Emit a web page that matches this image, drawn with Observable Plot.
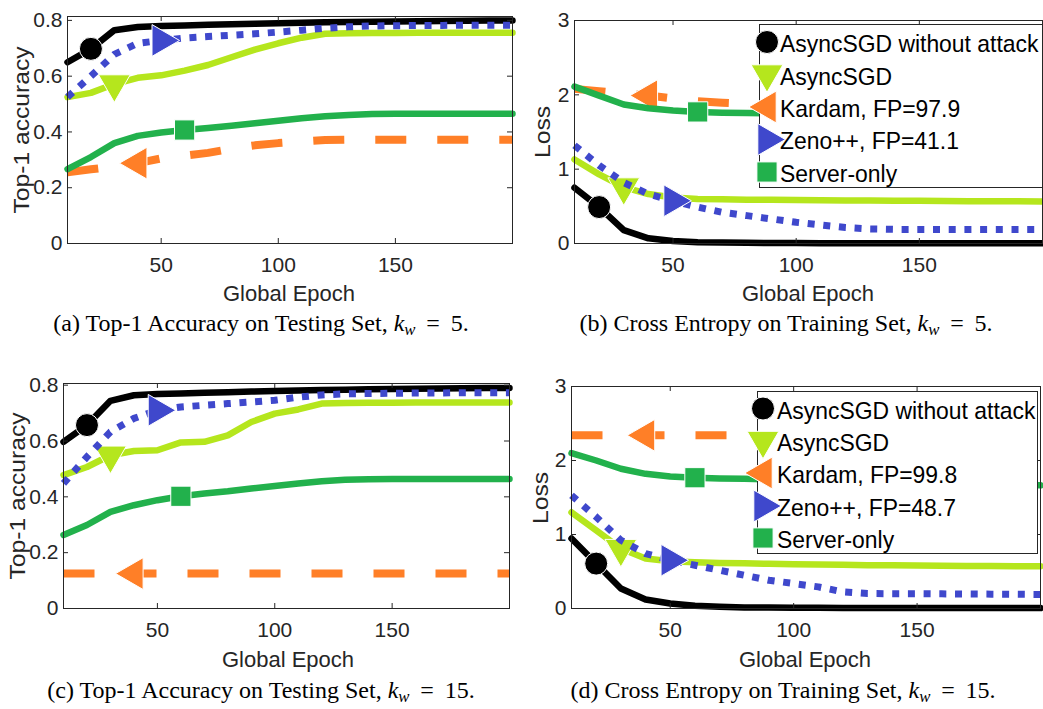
<!DOCTYPE html>
<html><head><meta charset="utf-8">
<script src="https://cdn.jsdelivr.net/npm/d3@7"></script>
<script src="https://cdn.jsdelivr.net/npm/@observablehq/plot@0.6"></script>
<style>
body{margin:0;background:#fff;}
#wrap{position:relative;width:1043px;height:709px;overflow:hidden;font-family:"Liberation Sans",Arial,sans-serif;}
.pl{position:absolute;}
.lbl{position:absolute;transform:translate(-50%,-50%);font-size:22px;color:#262626;white-space:nowrap;line-height:1;}
.ylbl{transform:translate(-50%,-50%) rotate(-90deg) scaleX(1.12);}
.cap{position:absolute;transform:translate(-50%,-50%);font-family:"Liberation Serif","Times New Roman",serif;font-size:24px;white-space:nowrap;color:#000;line-height:1;}
.cap sub{font-size:0.7em;vertical-align:-0.25em;}
.leg{position:absolute;border:1px solid #262626;background:#fff;box-sizing:border-box;overflow:visible;}
</style></head>
<body><div id="wrap"></div>
<script>
// ---------- data ----------
const epochs = [10,20,30,40,50,60,70,80,90,100,110,120,130,140,150,160,170,180,190,200];
const seriesNames = ["AsyncSGD without attack","AsyncSGD","Kardam","Zeno++","Server-only"];
const xTicks = [50,100,150];
const accTicks = [0,0.2,0.4,0.6,0.8];
const lossTicks = [0,1,2,3];
const markerEpochs = [20,30,40,50,60];

// (a) accuracy, k_w = 5
const accA_noAttack = [0.650,0.698,0.765,0.776,0.780,0.782,0.784,0.786,0.788,0.790,0.792,0.793,0.794,0.795,0.796,0.797,0.798,0.799,0.800,0.800];
const accA_async    = [0.525,0.540,0.572,0.594,0.603,0.620,0.640,0.668,0.695,0.718,0.738,0.752,0.754,0.755,0.755,0.756,0.756,0.756,0.756,0.756];
const accA_kardam   = [0.255,0.266,0.276,0.288,0.305,0.315,0.325,0.340,0.352,0.360,0.366,0.371,0.372,0.372,0.372,0.372,0.372,0.372,0.372,0.372];
const accA_zeno     = [0.525,0.600,0.678,0.718,0.728,0.737,0.742,0.747,0.752,0.758,0.765,0.772,0.777,0.780,0.781,0.782,0.782,0.783,0.783,0.783];
const accA_server   = [0.267,0.310,0.360,0.386,0.398,0.407,0.414,0.422,0.431,0.440,0.449,0.456,0.461,0.464,0.465,0.465,0.465,0.465,0.465,0.465];

// (b) loss, k_w = 5
const lossB_noAttack = [0.75,0.49,0.18,0.07,0.035,0.018,0.012,0.009,0.007,0.006,0.005,0.005,0.004,0.004,0.004,0.003,0.003,0.003,0.003,0.003];
const lossB_async    = [1.13,0.93,0.76,0.665,0.62,0.60,0.595,0.59,0.588,0.585,0.583,0.58,0.578,0.576,0.574,0.572,0.57,0.568,0.567,0.566];
const lossB_kardam   = [2.08,2.05,2.02,1.99,1.95,1.915,1.895,1.88,1.87,1.86,1.85,1.84,1.83,1.82,1.81,1.805,1.80,1.795,1.79,1.79];
const lossB_zeno     = [1.32,1.05,0.82,0.665,0.575,0.49,0.42,0.375,0.33,0.285,0.25,0.215,0.195,0.19,0.19,0.19,0.19,0.19,0.19,0.19];
const lossB_server   = [2.11,1.99,1.87,1.82,1.79,1.77,1.76,1.755,1.75,1.745,1.74,1.735,1.73,1.725,1.72,1.715,1.71,1.705,1.70,1.70];

// (c) accuracy, k_w = 15
const accC_noAttack = [0.597,0.657,0.744,0.764,0.768,0.770,0.773,0.775,0.777,0.779,0.781,0.783,0.784,0.785,0.786,0.787,0.788,0.789,0.790,0.790];
const accC_async    = [0.478,0.507,0.549,0.564,0.567,0.595,0.597,0.620,0.668,0.698,0.713,0.734,0.736,0.737,0.737,0.738,0.738,0.738,0.738,0.738];
const accC_kardam   = [0.125,0.125,0.125,0.125,0.125,0.125,0.125,0.125,0.125,0.125,0.125,0.125,0.125,0.125,0.125,0.125,0.125,0.125,0.125,0.125];
const accC_zeno     = [0.448,0.543,0.633,0.681,0.710,0.722,0.728,0.734,0.740,0.746,0.757,0.765,0.769,0.770,0.771,0.772,0.772,0.773,0.773,0.773];
const accC_server   = [0.263,0.299,0.346,0.370,0.388,0.402,0.412,0.420,0.430,0.439,0.448,0.456,0.461,0.463,0.464,0.464,0.464,0.464,0.464,0.464];

// (d) loss, k_w = 15
const lossD_noAttack = [0.945,0.607,0.27,0.121,0.067,0.036,0.022,0.015,0.012,0.010,0.009,0.008,0.008,0.007,0.007,0.007,0.006,0.006,0.006,0.006];
const lossD_async    = [1.30,1.057,0.81,0.675,0.639,0.625,0.616,0.61,0.605,0.598,0.594,0.59,0.586,0.583,0.58,0.578,0.576,0.574,0.572,0.571];
const lossD_kardam   = [2.34,2.34,2.34,2.34,2.34,2.34,2.34,2.34,2.34,2.34,2.34,2.34,2.34,2.34,2.34,2.34,2.34,2.34,2.34,2.34];
const lossD_zeno     = [1.53,1.237,0.922,0.742,0.652,0.585,0.517,0.45,0.382,0.337,0.292,0.225,0.202,0.20,0.20,0.198,0.196,0.194,0.192,0.19];
const lossD_server   = [2.10,2.00,1.888,1.82,1.785,1.767,1.758,1.753,1.745,1.738,1.73,1.72,1.712,1.705,1.698,1.69,1.684,1.678,1.671,1.664];

const legendB = ["AsyncSGD without attack","AsyncSGD","Kardam, FP=97.9","Zeno++, FP=41.1","Server-only"];
const legendD = ["AsyncSGD without attack","AsyncSGD","Kardam, FP=99.8","Zeno++, FP=48.7","Server-only"];

// ---------- styles ----------
const colors = ["#000000","#b5e61d","#ff7f27","#3f48cc","#22b14c"];
const styles = [
  {symbol:"circle",   rotate:0,   dash:null,     w:6.5, r:11.5},
  {symbol:"triangle", rotate:180, dash:null,     w:6.5, r:11.8},
  {symbol:"triangle", rotate:-90, dash:"31,31",  w:8,   r:11.8},
  {symbol:"triangle", rotate:90,  dash:"7,8.7",  w:7,   r:11.8},
  {symbol:"square",   rotate:0,   dash:null,     w:6.5, r:11.4}
];
const TXT = "#262626";
const wrap = document.getElementById("wrap");

function panel({series, yDomain, yTicks, left, top, width, height, ml, mr, mt, mb}) {
  const innerH = height - mt - mb, innerW = width - ml - mr;
  const marks = [];
  series.forEach((vals, i) => {
    const data = epochs.map((e, k) => ({epoch: e, value: vals[k]}));
    const s = styles[i];
    marks.push(Plot.line(data, {x: "epoch", y: "value", stroke: colors[i], strokeWidth: s.w,
      strokeDasharray: s.dash, strokeLinecap: s.dash ? "butt" : "round", strokeLinejoin: "round"}));
    const mk = data.filter(d => d.epoch === markerEpochs[i]);
    marks.push(Plot.dot(mk, {x: "epoch", y: "value", symbol: s.symbol, r: s.r, rotate: s.rotate,
      fill: colors[i], stroke: "white", strokeWidth: 1}));
  });
  const tickStyle = {stroke: TXT, strokeWidth: 1};
  const p = Plot.plot({
    width, height, marginLeft: ml, marginRight: mr, marginTop: mt, marginBottom: mb,
    x: {domain: [10, 200]},
    y: {domain: yDomain},
    style: {fontFamily: "'Liberation Sans', Arial, sans-serif", fontSize: "21px", color: TXT, background: "transparent", overflow: "visible"},
    marks: [
      ...marks,
      Plot.tickX(xTicks, {x: d => d, insetTop: innerH - 5, ...tickStyle}),
      Plot.tickX(xTicks, {x: d => d, insetBottom: innerH - 5, ...tickStyle}),
      Plot.tickY(yTicks, {y: d => d, insetRight: innerW - 5, ...tickStyle}),
      Plot.tickY(yTicks, {y: d => d, insetLeft: innerW - 5, ...tickStyle}),
      Plot.frame({stroke: TXT, strokeWidth: 1}),
      Plot.axisX(xTicks, {tickSize: 0, tickPadding: 14, fontSize: 21, label: null, tickFormat: d => String(d)}),
      Plot.axisY(yTicks, {tickSize: 0, tickPadding: 5, fontSize: 21, label: null, tickFormat: d => String(d)})
    ]
  });
  p.classList.add("pl");
  p.style.left = left + "px";
  p.style.top = top + "px";
  wrap.appendChild(p);
}

panel({series: [accA_noAttack, accA_async, accA_kardam, accA_zeno, accA_server], yDomain: [0, 0.814], yTicks: accTicks,
  left: 0, top: 0, width: 521, height: 300, ml: 67, mr: 9, mt: 16, mb: 57});
panel({series: [lossB_noAttack, lossB_async, lossB_kardam, lossB_zeno, lossB_server], yDomain: [0, 3], yTicks: lossTicks,
  left: 521, top: 0, width: 522, height: 300, ml: 53, mr: 1, mt: 20, mb: 57});
panel({series: [accC_noAttack, accC_async, accC_kardam, accC_zeno, accC_server], yDomain: [0, 0.806], yTicks: accTicks,
  left: 0, top: 365, width: 521, height: 300, ml: 63, mr: 12, mt: 18, mb: 57});
panel({series: [lossD_noAttack, lossD_async, lossD_kardam, lossD_zeno, lossD_server], yDomain: [0, 3], yTicks: lossTicks,
  left: 521, top: 365, width: 522, height: 300, ml: 50, mr: 3, mt: 21, mb: 57});

function label(text, x, y, cls) {
  const d = document.createElement("div");
  d.className = cls;
  d.style.left = x + "px"; d.style.top = y + "px";
  d.innerHTML = text;
  wrap.appendChild(d);
}
label("Global Epoch", 289, 294, "lbl");
label("Global Epoch", 808, 294, "lbl");
label("Global Epoch", 288, 660, "lbl");
label("Global Epoch", 805, 660, "lbl");
label("Top-1 accuracy", 22, 130, "lbl ylbl");
label("Loss", 543, 132, "lbl ylbl");
label("Top-1 accuracy", 18, 496, "lbl ylbl");
label("Loss", 541, 498, "lbl ylbl");

label("(a) Top-1 Accuracy on Testing Set, <i>k<sub>w</sub></i>&thinsp; =&thinsp; 5.", 261, 325, "cap");
label("(b) Cross Entropy on Training Set, <i>k<sub>w</sub></i>&thinsp; =&thinsp; 5.", 786, 325, "cap");
label("(c) Top-1 Accuracy on Testing Set, <i>k<sub>w</sub></i>&thinsp; =&thinsp; 15.", 261, 692, "cap");
label("(d) Cross Entropy on Training Set, <i>k<sub>w</sub></i>&thinsp; =&thinsp; 15.", 783, 692, "cap");

function legend(labels, x, y, w, h, rowY, mkY, mx, tx) {
  const ns = "http://www.w3.org/2000/svg";
  const svg = document.createElementNS(ns, "svg");
  svg.setAttribute("class", "leg");
  svg.setAttribute("width", w); svg.setAttribute("height", h);
  svg.style.left = x + "px"; svg.style.top = y + "px";
  const symMap = {circle: d3.symbolCircle, triangle: d3.symbolTriangle, square: d3.symbolSquare};
  labels.forEach((t, i) => {
    const s = styles[i];
    const path = document.createElementNS(ns, "path");
    path.setAttribute("d", d3.symbol(symMap[s.symbol], s.r * s.r * Math.PI)());
    path.setAttribute("transform", `translate(${mx},${mkY[i]}) rotate(${s.rotate})`);
    path.setAttribute("fill", colors[i]);
    path.setAttribute("stroke", "white");
    path.setAttribute("stroke-width", 1);
    svg.appendChild(path);
    const tt = document.createElementNS(ns, "text");
    tt.setAttribute("transform", `translate(${tx},${rowY[i]}) scale(0.955,1)`);
    tt.setAttribute("dy", "0.36em");
    tt.setAttribute("font-size", 24);
    tt.setAttribute("font-family", "'Liberation Sans', Arial, sans-serif");
    tt.setAttribute("fill", "#000");
    tt.textContent = t;
    svg.appendChild(tt);
  });
  wrap.appendChild(svg);
}
legend(legendB, 759, 24, 284, 164, [18.5, 51, 83, 115, 148], [17, 49, 82, 114.5, 147], 7, 20);
legend(legendD, 757, 391, 281, 163, [18, 50, 82, 115, 147], [16.5, 48.5, 81, 114, 146], 5, 19);
</script>
</body></html>
